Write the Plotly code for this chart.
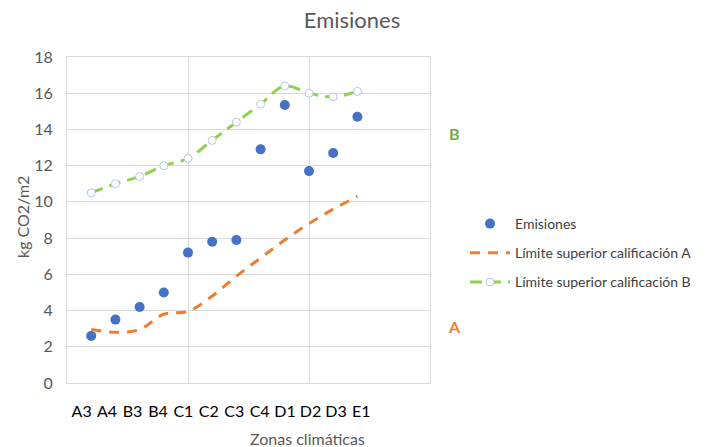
import plotly.graph_objects as go

categories = ["A3", "A4", "B3", "B4", "C1", "C2", "C3", "C4", "D1", "D2", "D3", "E1"]
emisiones = [2.6, 3.5, 4.2, 5.0, 7.2, 7.8, 7.9, 12.9, 15.35, 11.7, 12.7, 14.7]
limite_a = [2.95, 2.8, 2.95, 3.8, 3.95, 4.8, 5.9, 6.9, 7.9, 8.8, 9.6, 10.3]
limite_b = [10.5, 11.0, 11.4, 12.0, 12.4, 13.4, 14.4, 15.4, 16.4, 16.0, 15.8, 16.1]

xpos = list(range(1, len(categories) + 1))
FONT = "Lato, Open Sans, sans-serif"
GRID = "#d9d9d9"

fig = go.Figure()
fig.add_trace(go.Scatter(
    x=xpos, y=emisiones, mode="markers", name="Emisiones",
    marker=dict(color="#4472C4", size=10), legendgroup="e",
))
fig.add_trace(go.Scatter(
    x=xpos, y=limite_a, mode="lines", name="Límite superior calificación A",
    line=dict(color="#ED7D31", width=3, dash="10px,8px", shape="spline"), legendgroup="a",
))
fig.add_trace(go.Scatter(
    x=xpos, y=limite_b, mode="lines+markers", name="Límite superior calificación B",
    line=dict(color="#92D050", width=3, dash="12px,7px", shape="spline"),
    marker=dict(symbol="circle", size=8, color="white", line=dict(color="#b4c7e7", width=1)),
    legendgroup="b",
))
# invisible trace for category labels on secondary x axis
fig.add_trace(go.Scatter(x=[0], y=[0], xaxis="x2", mode="markers",
                         marker=dict(opacity=0), showlegend=False, hoverinfo="skip"))

fig.update_layout(
    width=706, height=447,
    margin=dict(l=67, r=276, t=57, b=64, autoexpand=False),
    paper_bgcolor="white", plot_bgcolor="white",
    font=dict(family=FONT, color="#595959"),
    title=dict(text="Emisiones", x=352 / 706, xanchor="center", y=1 - 20 / 447, yanchor="middle",
               font=dict(size=22, color="#595959", family=FONT)),
    xaxis=dict(range=[0, 15], dtick=5, showgrid=True, gridcolor=GRID, gridwidth=1,
               showticklabels=False, zeroline=False, showline=True, linecolor=GRID, mirror=True,
               ticks="", automargin=False),
    xaxis2=dict(overlaying="x", side="bottom", range=[-0.577, 13.7],
                tickvals=list(range(len(categories))), ticktext=categories,
                showgrid=False, zeroline=False, showline=False, automargin=False,
                ticks="outside", ticklen=14, tickcolor="rgba(0,0,0,0)",
                tickfont=dict(size=16, color="#000000", family=FONT)),
    yaxis=dict(range=[0, 18], dtick=2, showgrid=True, gridcolor=GRID, gridwidth=1,
               zeroline=False, showline=True, linecolor=GRID, mirror=True, automargin=False,
               ticks="outside", ticklen=10, tickcolor="rgba(0,0,0,0)",
               tickfont=dict(size=16, color="#595959", family=FONT)),
    legend=dict(x=(465 - 67) / 363, xanchor="left", y=(447 - 64 - 208) / 326, yanchor="top",
                yref="paper", bgcolor="rgba(0,0,0,0)", tracegroupgap=8,
                font=dict(size=14, color="#404040", family=FONT), itemwidth=40),
    showlegend=True,
)

fig.add_annotation(text="Zonas climáticas", xref="paper", yref="paper",
                   x=(307 - 67) / 363, y=-(438 - 383) / 326, xanchor="center", yanchor="middle",
                   showarrow=False, font=dict(size=16, color="#595959", family=FONT))
fig.add_annotation(text="kg CO2/m2", xref="paper", yref="paper",
                   x=-(67 - 22) / 363, y=(383 - 217) / 326, xanchor="center", yanchor="middle",
                   textangle=-90, showarrow=False, font=dict(size=16, color="#595959", family=FONT))
fig.add_annotation(text="<b>B</b>", xref="paper", yref="paper",
                   x=(454 - 67) / 363, y=(383 - 133) / 326, xanchor="center", yanchor="middle",
                   showarrow=False, font=dict(size=16, color="#70AD47", family=FONT))
fig.add_annotation(text="<b>A</b>", xref="paper", yref="paper",
                   x=(455 - 67) / 363, y=(383 - 326) / 326, xanchor="center", yanchor="middle",
                   showarrow=False, font=dict(size=16, color="#ED7D31", family=FONT))

fig.write_html("out.html", config={"displayModeBar": False},
               post_script="document.body.style.margin='0';document.body.style.padding='0';")
